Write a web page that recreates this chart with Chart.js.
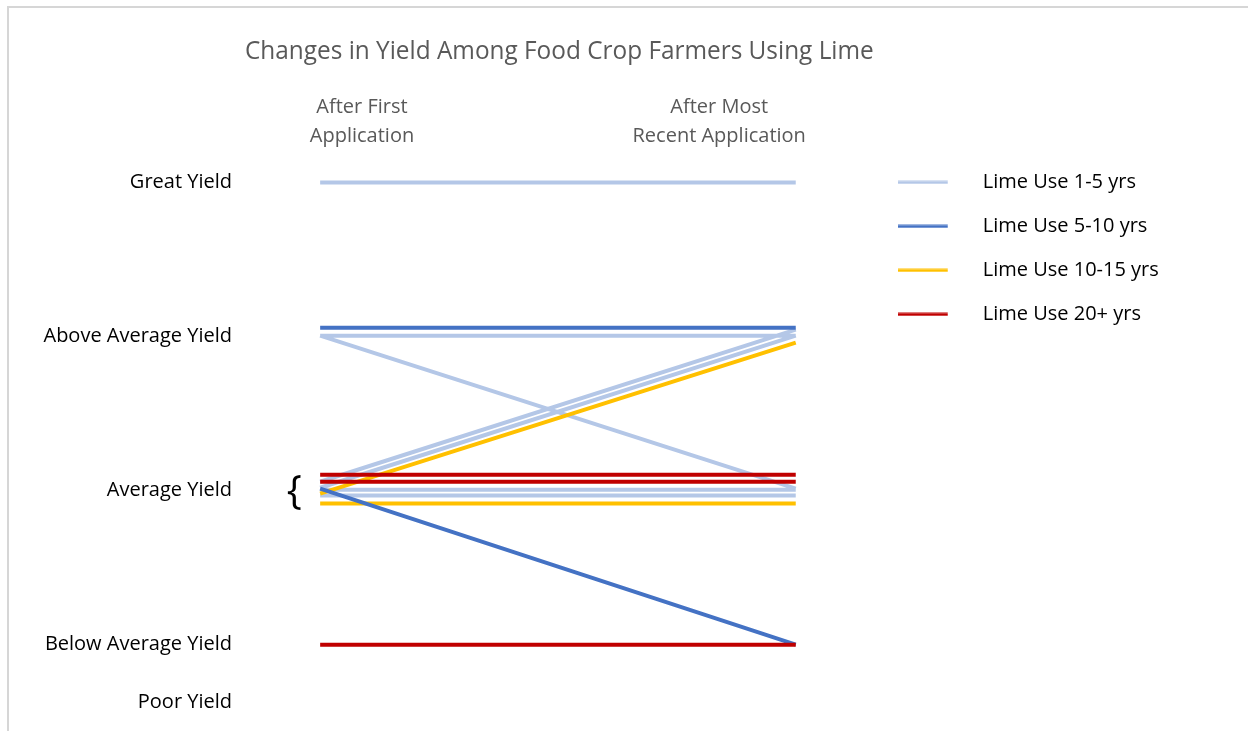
<!DOCTYPE html>
<html>
<head>
<meta charset="utf-8">
<script src="https://cdn.jsdelivr.net/npm/chart.js@4.4.1/dist/chart.umd.min.js"></script>
<style>
  html, body { margin: 0; padding: 0; background: #fff; }
  #frame { position: absolute; left: 7px; top: 6px; width: 1300px; height: 800px;
           border-left: 2px solid #d6d6d6; border-top: 2px solid #d6d6d6; }
  #wrap { position: absolute; left: 0; top: 0; width: 1248px; height: 731px; }
</style>
</head>
<body>
<div id="frame"></div>
<div id="wrap"><canvas id="chart" width="1248" height="731"></canvas></div>
<script>
// yield levels on the vertical axis (Poor Yield sits closer than the others)
const yieldLevels = [4, 3, 2, 1, 0.624];
const yieldLabels = ["Great Yield", "Above Average Yield", "Average Yield", "Below Average Yield", "Poor Yield"];

// column headers: 0 = after first application, 1 = after most recent
const stageTicks = [0.088, 0.839];
const stageLabels = [["After First", "Application"], ["After Most", "Recent Application"]];

const seriesNames = ["Lime Use 1-5 yrs", "Lime Use 5-10 yrs", "Lime Use 10-15 yrs", "Lime Use 20+ yrs"];
const seriesColors = ["#b4c7e7", "#4472c4", "#ffc000", "#c00000"];

// one entry per farmer: yield after first / after most recent application
const use1to5First  = [4, 3.006, 3.006, 2.058, 2.019, 2.006, 1.968];
const use1to5Recent = [4, 3.006, 2.013, 3.045, 3.006, 2.006, 1.968];
const use5to10First  = [3.058, 2.013];
const use5to10Recent = [3.058, 1];
const use10to15First  = [1.981, 1.916];
const use10to15Recent = [2.961, 1.916];
const use20First  = [2.104, 2.058, 1];
const use20Recent = [2.104, 2.058, 1];

const $ = (id) => document.getElementById(id);
const FONT = "'Open Sans'";

function farmerLines(first, recent) {
  const pts = [];
  first.forEach((v, i) => {
    pts.push({ x: 0, y: v }, { x: 1, y: recent[i] }, { x: 1, y: null });
  });
  return pts;
}

function legendSwatch(color) {
  const c = document.createElement("canvas");
  c.width = 75;
  c.height = 4;
  const g = c.getContext("2d");
  g.fillStyle = color;
  g.fillRect(0, 0.5, 50, 3);
  return c;
}

const seriesData = [
  farmerLines(use1to5First, use1to5Recent),
  farmerLines(use5to10First, use5to10Recent),
  farmerLines(use10to15First, use10to15Recent),
  farmerLines(use20First, use20Recent),
];
const drawOrder = [4, 2, 3, 1];

// the "{" next to the Average Yield group
const bracePlugin = {
  id: "brace",
  afterDatasetsDraw(chart) {
    const { ctx, scales } = chart;
    const x = scales.x.getPixelForValue(0) - 26;
    const y = scales.y.getPixelForValue(2) + 2;
    ctx.save();
    ctx.font = "40px " + FONT;
    ctx.fillStyle = "#000";
    ctx.textAlign = "center";
    ctx.textBaseline = "middle";
    ctx.fillText("{", x, y);
    ctx.restore();
  }
};

const chart = new Chart($("chart"), {
  type: "line",
  data: {
    datasets: seriesData.map((d, i) => ({
      label: seriesNames[i],
      data: d,
      borderColor: seriesColors[i],
      backgroundColor: seriesColors[i],
      borderWidth: 4,
      pointRadius: 0,
      spanGaps: false,
      order: drawOrder[i],
    }))
  },
  options: {
    responsive: false,
    animation: false,
    layout: { padding: { top: 0, right: 83, bottom: 9, left: 0 } },
    plugins: {
      tooltip: { enabled: false },
      title: {
        display: true,
        text: "Changes in Yield Among Food Crop Farmers Using Lime",
        color: "#595959",
        fullSize: false,
        font: { family: FONT, size: 26, weight: "normal", lineHeight: 1.2 },
        padding: { top: 36, bottom: 18 }
      },
      legend: {
        position: "right",
        align: "start",
        title: { display: true, text: "", padding: { top: 134, bottom: 0 } },
        labels: {
          usePointStyle: true,
          pointStyleWidth: 75,
          color: "#000",
          font: { family: FONT, size: 20 },
          padding: 24,
          generateLabels(c) {
            const items = Chart.defaults.plugins.legend.labels.generateLabels(c);
            items.forEach(it => { it.pointStyle = legendSwatch(seriesColors[it.datasetIndex]); });
            return items.sort((a, b) => a.datasetIndex - b.datasetIndex);
          }
        }
      }
    },
    scales: {
      x: {
        type: "linear",
        position: "top",
        min: -0.158,
        max: 1.164,
        grid: { display: false },
        border: { display: false },
        afterBuildTicks: (axis) => { axis.ticks = stageTicks.map(v => ({ value: v })); },
        ticks: {
          autoSkip: false,
          maxRotation: 0,
          padding: 8,
          color: "#595959",
          font: { family: FONT, size: 20, lineHeight: 1.45 },
          callback: (v) => stageLabels[stageTicks.indexOf(v)]
        }
      },
      y: {
        type: "linear",
        min: 0.55,
        max: 4.1,
        grid: { display: false },
        border: { display: false },
        afterBuildTicks: (axis) => { axis.ticks = yieldLevels.map(v => ({ value: v })); },
        afterFit: (axis) => { axis.width = 245; },
        ticks: {
          autoSkip: false,
          color: "#000",
          padding: 5,
          font: { family: FONT, size: 20 },
          callback: (v) => yieldLabels[yieldLevels.indexOf(v)]
        }
      }
    }
  },
  plugins: [bracePlugin]
});
</script>
</body>
</html>
